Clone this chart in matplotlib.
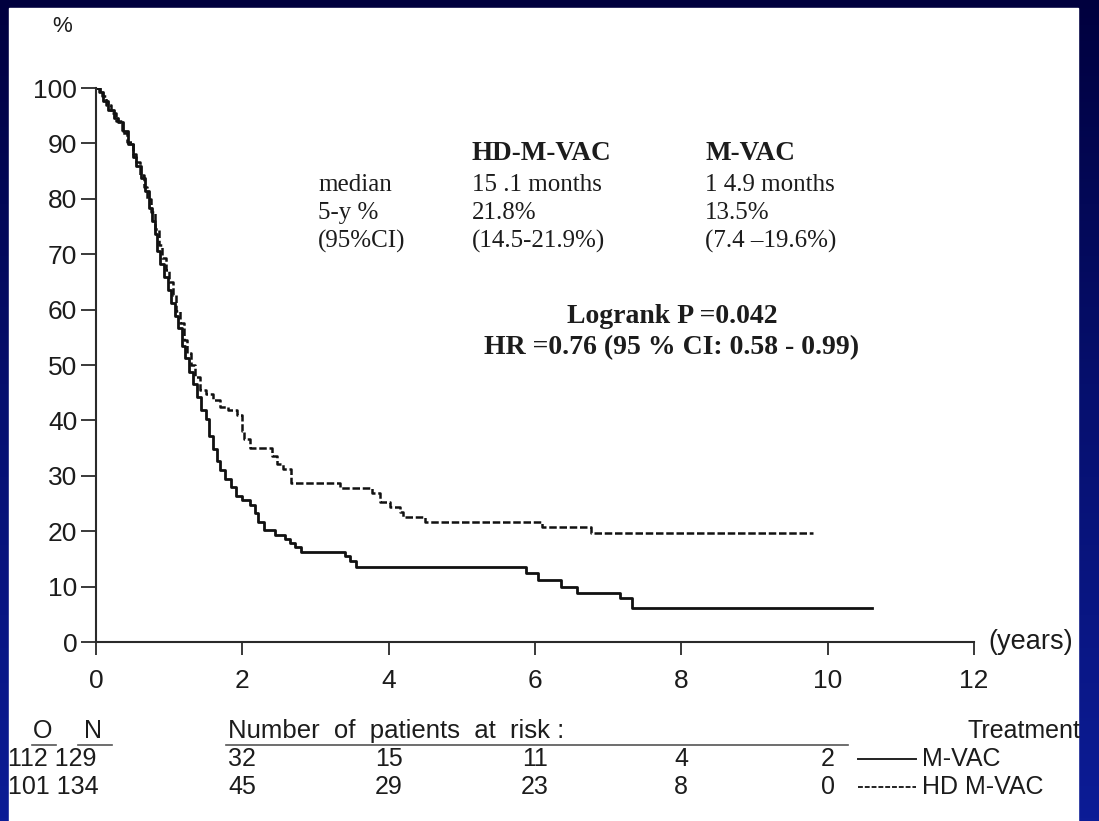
import numpy as np
import matplotlib.pyplot as plt
from matplotlib.colors import LinearSegmentedColormap
from matplotlib.lines import Line2D
from matplotlib.patches import Rectangle
from matplotlib.transforms import blended_transform_factory

# Kaplan-Meier steps (years, % alive)
mvac_t = [0, 0.05, 0.1, 0.17, 0.25, 0.3, 0.37, 0.44, 0.5, 0.55, 0.62, 0.67, 0.72, 0.76,
          0.8, 0.83, 0.88, 0.93, 0.98, 1.03, 1.08, 1.12, 1.17, 1.22, 1.27, 1.33, 1.38,
          1.44, 1.5, 1.55, 1.6, 1.65, 1.7, 1.76, 1.85, 1.92, 2.0, 2.1, 2.17, 2.22, 2.3,
          2.45, 2.58, 2.65, 2.72, 2.8, 3.4, 3.47, 3.56, 5.88, 6.04, 6.36, 6.57, 7.16,
          7.32, 10.6]
mvac_s = [100, 99.2, 97.7, 96.1, 94.6, 93.8, 92.2, 89.9, 87.6, 86.0, 83.7, 81.4, 78.3,
          76.0, 73.6, 70.5, 68.2, 65.9, 63.6, 61.2, 58.9, 56.6, 53.5, 51.2, 48.8, 46.5,
          44.2, 41.9, 40.3, 37.2, 34.9, 32.6, 31.0, 29.5, 28.0, 26.4, 25.6, 24.8, 23.3,
          21.7, 20.2, 19.4, 18.6, 17.8, 17.1, 16.3, 15.5, 14.7, 13.6, 12.4, 11.2, 10.0,
          8.8, 7.9, 6.2, 6.2]

hd_t = [0, 0.04, 0.08, 0.13, 0.2, 0.28, 0.35, 0.42, 0.5, 0.55, 0.6, 0.66, 0.7, 0.75,
        0.8, 0.86, 0.9, 0.95, 1.0, 1.05, 1.1, 1.15, 1.2, 1.25, 1.3, 1.35, 1.42, 1.5,
        1.6, 1.7, 1.8, 1.93, 1.99, 2.02, 2.1, 2.4, 2.48, 2.55, 2.67, 3.33, 3.77, 3.88,
        4.02, 4.15, 4.2, 4.5, 6.1, 6.77, 9.8]
hd_s = [100, 99.3, 98.5, 97.0, 95.5, 94.0, 91.8, 90.3, 88.1, 86.6, 84.3, 82.1, 79.9,
        77.6, 74.6, 71.6, 69.4, 67.2, 64.9, 62.7, 59.7, 57.5, 54.5, 52.2, 50.0, 47.8,
        45.5, 44.8, 43.7, 42.5, 41.8, 41.0, 38.1, 36.6, 35.1, 33.6, 32.1, 31.3, 28.7,
        27.8, 26.9, 25.3, 24.4, 23.5, 22.6, 21.7, 20.8, 19.7, 19.7]

risk_years = [2, 4, 6, 8, 10]
risk_mvac = [32, 15, 11, 4, 2]
risk_hd = [45, 29, 23, 8, 0]
on_mvac = [112, 129]
on_hd = [101, 134]

W, H = 1099, 821
SANS = ['Liberation Sans', 'DejaVu Sans']
SERIF = ['Liberation Serif', 'DejaVu Serif']
INK = '#1c1c1c'


def fx(px):
    return px / W


def fy(py):
    return 1 - py / H


fig = plt.figure(figsize=(W / 100, H / 100), dpi=100)

# slide background + white sheet
bg = fig.add_axes([0, 0, 1, 1])
slide = LinearSegmentedColormap.from_list('slide', ['#00003e', '#061070', '#0c1c96'])
bg.imshow(np.linspace(0, 1, 256)[:, None], cmap=slide, aspect='auto',
          extent=[0, 1, 0, 1], origin='upper')
bg.add_patch(Rectangle((fx(9), 0), fx(1078) - fx(9), fy(8), color='white'))
bg.set_xlim(0, 1)
bg.set_ylim(0, 1)
bg.axis('off')

ax = fig.add_axes([fx(96), fy(642), fx(974) - fx(96), fy(88) - fy(642)])
ax.patch.set_alpha(0)
ax.step(mvac_t, mvac_s, where='post', color='#111111', lw=2.0)
ax.step(hd_t, hd_s, where='post', color='#111111', lw=1.8, linestyle=(0, (3.0, 1.1)))
ax.set_xlim(0, 12)
ax.set_ylim(0, 100)
ax.set_xticks(range(0, 13, 2))
ax.set_yticks(range(0, 101, 10))
for s in ['top', 'right']:
    ax.spines[s].set_visible(False)
for s in ['left', 'bottom']:
    ax.spines[s].set_linewidth(1.5)
    ax.spines[s].set_color('#2a2a2a')
ax.tick_params(axis='x', length=9.5, width=1.3, pad=10, color='#2a2a2a')
ax.tick_params(axis='y', length=11, width=1.3, pad=2.5, color='#2a2a2a')
for lab in ax.get_xticklabels() + ax.get_yticklabels():
    lab.set_family(SANS)
    lab.set_fontsize(19)
    lab.set_color(INK)

fig.text(fx(62), fy(27), '%', family=SANS, fontsize=16, color=INK, ha='center', va='center')
fig.text(fx(988), fy(642), '(years)', family=SANS, fontsize=19.5, color=INK, va='center')

# summary table on the plot
col = [318, 472, 705]
rows = [
    ('median', '15 .1 months', '1 4.9 months'),
    ('5-y %', '21.8%', '13.5%'),
    ('(95%CI)', '(14.5-21.9%)', '(7.4 \u201319.6%)'),
]
fig.text(fx(col[1]), fy(153), 'HD-M-VAC', family=SERIF, fontsize=19.5, weight='bold',
         color=INK, va='center')
fig.text(fx(col[2]), fy(153), 'M-VAC', family=SERIF, fontsize=19.5, weight='bold',
         color=INK, va='center')
for i, r in enumerate(rows):
    for j, t in enumerate(r):
        fig.text(fx(col[j]), fy(185 + 28 * i), t, family=SERIF, fontsize=18,
                 color=INK, va='center')
fig.text(fx(672), fy(316), 'Logrank P =0.042', family=SERIF, fontsize=20,
         weight='bold', color=INK, ha='center', va='center')
fig.text(fx(672), fy(348), 'HR =0.76 (95 % CI: 0.58 - 0.99)', family=SERIF,
         fontsize=20, weight='bold', color=INK, ha='center', va='center')

# number at risk table
tx = blended_transform_factory(ax.transData, fig.transFigure)
fig.text(fx(43), fy(731), 'O', family=SANS, fontsize=18, color=INK, ha='center', va='center')
fig.text(fx(93), fy(731), 'N', family=SANS, fontsize=18, color=INK, ha='center', va='center')
fig.text(fx(228), fy(731), 'Number  of  patients  at  risk :', family=SANS, fontsize=18.5,
         color=INK, va='center')
fig.text(fx(1080), fy(731), 'Treatment', family=SANS, fontsize=18, color=INK,
         ha='right', va='center')
for x0, x1 in [(32, 56), (78, 112), (226, 848)]:
    fig.add_artist(Line2D([fx(x0), fx(x1)], [fy(745), fy(745)], color='#555555', lw=1.2))

for yy, on, risk, ls, name in [(759, on_mvac, risk_mvac, '-', 'M-VAC'),
                               (787, on_hd, risk_hd, (0, (2.5, 1)), 'HD M-VAC')]:
    fig.text(fx(8), fy(yy), '%d %d' % (on[0], on[1]), family=SANS, fontsize=18,
             color=INK, va='center')
    for yr, n in zip(risk_years, risk):
        fig.text(yr, fy(yy), str(n), transform=tx, family=SANS, fontsize=18,
                 color=INK, ha='center', va='center')
    fig.add_artist(Line2D([fx(858), fx(916)], [fy(yy), fy(yy)], color='#222222',
                          lw=1.4, linestyle=ls))
    fig.text(fx(922), fy(yy), name, family=SANS, fontsize=18, color=INK, va='center')

fig.savefig('out.png', dpi=100)
